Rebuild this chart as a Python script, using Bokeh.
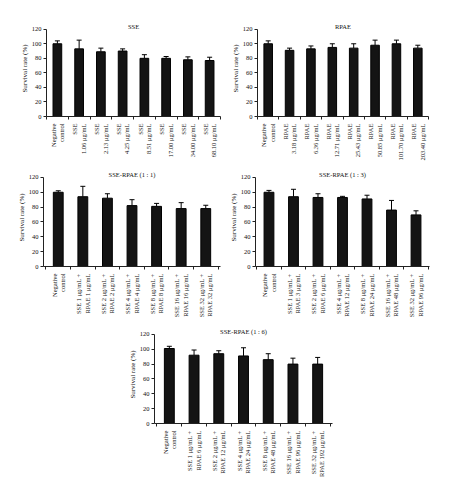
import math
from bokeh.plotting import figure
from bokeh.layouts import column, row
from bokeh.models import FixedTicker, Whisker, ColumnDataSource, TeeHead, Range1d, Spacer, Label
from bokeh.embed import file_html
from bokeh.resources import INLINE

FONT = "Liberation Serif"

# ---- data ----
sse_labels = ["Negative\ncontrol", "SSE\n1.06 μg/mL", "SSE\n2.13 μg/mL", "SSE\n4.25 μg/mL",
              "SSE\n8.51 μg/mL", "SSE\n17.00 μg/mL", "SSE\n34.00 μg/mL", "SSE\n68.10 μg/mL"]
sse_values = [100, 93, 89, 90, 80, 80, 78, 77]
sse_errors = [4, 12, 5, 3, 5, 2.5, 4, 4.5]

rpae_labels = ["Negative\ncontrol", "RPAE\n3.18 μg/mL", "RPAE\n6.36 μg/mL", "RPAE\n12.71 μg/mL",
               "RPAE\n25.43 μg/mL", "RPAE\n50.85 μg/mL", "RPAE\n101.70 μg/mL", "RPAE\n203.40 μg/mL"]
rpae_values = [100, 91, 93, 95, 94, 98, 100, 94]
rpae_errors = [4, 3, 4, 5, 6, 7, 5, 4]

mix11_labels = ["Negative\ncontrol", "SSE 1 μg/mL +\nRPAE 1 μg/mL", "SSE 2 μg/mL +\nRPAE 2 μg/mL",
                "SSE 4 μg/mL +\nRPAE 4 μg/mL", "SSE 8 μg/mL +\nRPAE 8 μg/mL",
                "SSE 16 μg/mL +\nRPAE 16 μg/mL", "SSE 32 μg/mL +\nRPAE 32 μg/mL"]
mix11_values = [100, 94, 92, 82, 81, 78, 78]
mix11_errors = [2, 14, 6, 8, 4, 8, 4.5]

mix13_labels = ["Negative\ncontrol", "SSE 1 μg/mL +\nRPAE 3 μg/mL", "SSE 2 μg/mL +\nRPAE 6 μg/mL",
                "SSE 4 μg/mL +\nRPAE 12 μg/mL", "SSE 8 μg/mL +\nRPAE 24 μg/mL",
                "SSE 16 μg/mL +\nRPAE 48 μg/mL", "SSE 32 μg/mL +\nRPAE 96 μg/mL"]
mix13_values = [100, 94, 93, 93, 91, 76, 69.5]
mix13_errors = [2.5, 10, 5, 1.5, 5, 13, 5.5]

mix16_labels = ["Negative\ncontrol", "SSE 1 μg/mL +\nRPAE 6 μg/mL", "SSE 2 μg/mL +\nRPAE 12 μg/mL",
                "SSE 4 μg/mL +\nRPAE 24 μg/mL", "SSE 8 μg/mL +\nRPAE 48 μg/mL",
                "SSE 16 μg/mL +\nRPAE 96 μg/mL", "SSE 32 μg/mL +\nRPAE 192 μg/mL"]
mix16_values = [101, 92, 94, 91, 86, 80, 80]
mix16_errors = [3, 7, 4, 11, 8, 8, 9]

y_ticks = [0, 20, 40, 60, 80, 100, 120]
y_axis_max = 120
y_view_max = 132


def make(title, labels, values, errors, width, height, left, right, top, bottom, x_lo, x_hi):
    n = len(labels)
    xs = list(range(1, n + 1))
    src = ColumnDataSource(dict(x=xs, top=values,
                                upper=[v + e for v, e in zip(values, errors)]))
    p = figure(width=width, height=height, output_backend="svg", toolbar_location=None,
               x_range=Range1d(x_lo, x_hi), y_range=Range1d(0, y_view_max),
               min_border_left=left, min_border_right=right,
               min_border_top=top, min_border_bottom=bottom)
    p.vbar(x="x", top="top", width=0.4, source=src, fill_color="#141414", line_color="#000000")
    w = Whisker(base="x", lower="top", upper="upper", source=src,
                upper_head=TeeHead(size=5, line_color="#000000", line_width=1),
                lower_head=None, line_color="#000000", line_width=1)
    p.add_layout(w)

    t = Label(x=(x_lo + x_hi) / 2, y=y_axis_max, text=title, text_align="center",
              text_baseline="bottom", y_offset=-1, text_font=FONT, text_font_size="6.5px",
              text_color="#111111")
    p.add_layout(t)

    p.grid.visible = False
    p.outline_line_color = None
    p.background_fill_color = "white"
    p.border_fill_color = "white"

    xa = p.xaxis[0]
    xa.ticker = FixedTicker(ticks=xs, minor_ticks=[i + 0.5 for i in range(0, n + 1)])
    xa.major_label_overrides = {x: lab for x, lab in zip(xs, labels)}
    xa.major_label_orientation = math.pi / 2
    xa.major_tick_out = 0
    xa.major_tick_in = 0
    xa.minor_tick_out = 3
    xa.minor_tick_in = 0
    xa.major_label_standoff = 4
    xa.major_label_text_font = FONT
    xa.major_label_text_font_size = "6.5px"
    xa.major_label_text_color = "#111111"
    xa.axis_line_color = "#222222"
    xa.minor_tick_line_color = "#222222"

    ya = p.yaxis[0]
    ya.bounds = (0, y_axis_max)
    ya.ticker = FixedTicker(ticks=y_ticks)
    ya.major_tick_out = 3
    ya.major_tick_in = 0
    ya.minor_tick_out = 0
    ya.minor_tick_in = 0
    ya.major_label_standoff = 2
    ya.major_label_text_font = FONT
    ya.major_label_text_font_size = "6.5px"
    ya.major_label_text_color = "#111111"
    ya.axis_label = "Survival rate (%)"
    ya.axis_label_text_font = FONT
    ya.axis_label_text_font_size = "7px"
    ya.axis_label_text_font_style = "normal"
    ya.axis_label_text_color = "#111111"
    ya.axis_label_standoff = 0
    ya.axis_line_color = "#222222"
    ya.major_tick_line_color = "#222222"
    return p


# frames: 98 px tall (0..132), so that 0..120 spans 89 px as in the reference
p1 = make("SSE", sse_labels, sse_values, sse_errors, 218, 155, 38, 6, 12, 45, 0.5, 8.5)
p2 = make("RPAE", rpae_labels, rpae_values, rpae_errors, 218, 155, 31, 16, 12, 45, 0.5, 8.5)
p3 = make("SSE-RPAE (1 : 1)", mix11_labels, mix11_values, mix11_errors, 218, 157, 35, 6, 5, 54, 0.4, 7.6)
p4 = make("SSE-RPAE (1 : 3)", mix13_labels, mix13_values, mix13_errors, 218, 157, 26, 15, 5, 54, 0.45, 7.55)
p5 = make("SSE-RPAE (1 : 6)", mix16_labels, mix16_values, mix16_errors, 230, 172, 44, 8, 5, 69, 0.4, 7.6)

grid = column(row(p1, p2), row(p3, p4), row(Spacer(width=102, height=172), p5))
layout = column(Spacer(width=444, height=8), row(Spacer(width=8, height=484), grid))

open("out.html", "w").write(file_html(layout, INLINE))
